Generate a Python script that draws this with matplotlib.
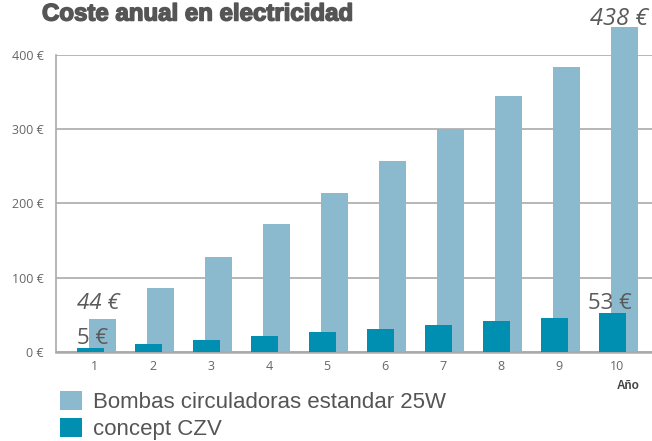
import matplotlib.pyplot as plt
import matplotlib.patheffects as pe

# Coste anual (EUR) por año
anios = [1, 2, 3, 4, 5, 6, 7, 8, 9, 10]
coste_estandar = [44, 86, 128, 172, 214, 257, 301, 345, 384, 438]
coste_czv = [5, 11, 16, 22, 27, 31, 36, 42, 46, 53]
yticks = [0, 100, 200, 300, 400]
nombre_estandar = 'Bombas circuladoras estandar 25W'
nombre_czv = 'concept CZV'

color_claro = '#8bb9ce'
color_oscuro = '#008fb0'
gris_texto = '#666666'

fig = plt.figure(figsize=(6.52, 4.41), dpi=100)
ax = fig.add_axes([0.0859, 0.2018, 0.914, 0.6735])

ancho = 0.47
b1 = ax.bar([a + 0.13 for a in anios], coste_estandar, width=ancho,
            color=color_claro, clip_on=False, zorder=2, label=nombre_estandar)
b2 = ax.bar([a - 0.08 for a in anios], coste_czv, width=ancho,
            color=color_oscuro, clip_on=False, zorder=3, label=nombre_czv)

ax.set_xlim(0.33, 10.6)
ax.set_ylim(0, 400)
ax.set_xticks(anios)
ax.set_xticklabels([str(a) for a in anios], fontfamily='Open Sans',
                   fontsize=9, color=gris_texto)
ax.set_yticks(yticks)
ax.set_yticklabels([f'{v} €' for v in yticks], fontfamily='Open Sans',
                   fontsize=9, color=gris_texto)
ax.tick_params(axis='both', length=0)
ax.tick_params(axis='y', pad=9)
ax.tick_params(axis='x', pad=6)

ax.grid(axis='y', color='#aaaaaa', linewidth=1.2, zorder=0)
ax.set_axisbelow(True)
for s in ['top', 'right']:
    ax.spines[s].set_visible(False)
ax.spines['left'].set_color('#aaaaaa')
ax.spines['left'].set_linewidth(1.2)
ax.spines['bottom'].set_color('#aaaaaa')
ax.spines['bottom'].set_linewidth(1.8)

# Etiquetas de valor
etiq = dict(fontfamily='Open Sans', color='#5a5a5a', textcoords='offset pixels',
            va='baseline')
ax.annotate(f'{coste_estandar[-1]} €', (anios[-1] + 0.03, coste_estandar[-1]),
            xytext=(0, 2), ha='center', fontsize=17, style='italic',
            annotation_clip=False, **etiq)
ax.annotate(f'{coste_estandar[0]} €', (anios[0] - 0.08 - ancho / 2, coste_estandar[0]),
            xytext=(0, 10), ha='left', fontsize=16, style='italic', **etiq)
ax.annotate(f'{coste_czv[0]} €', (anios[0] - 0.08 - ancho / 2, coste_czv[0]),
            xytext=(0, 4), ha='left', fontsize=16, **etiq)
ax.annotate(f'{coste_czv[-1]} €', (anios[-1] - 0.08, coste_czv[-1]),
            xytext=(-3, 4), ha='center', fontsize=16, **etiq)

ax.text((628 - 56) / 596, -0.115, 'Año', transform=ax.transAxes, ha='center',
        va='center', fontsize=8.5, fontweight='bold', color='#444444',
        fontfamily='Liberation Sans')

fig.text(42 / 652, 1 - 14 / 441, 'Coste anual en electricidad', ha='left',
         va='center', fontsize=17.3, fontweight='bold', color='#555555',
         fontfamily='Liberation Sans',
         path_effects=[pe.withStroke(linewidth=1.1, foreground='#555555')])

fig.legend(handles=[b1, b2], loc='upper left',
           bbox_to_anchor=(60 / 652, 1 - 391 / 441), frameon=False,
           prop={'family': 'Liberation Sans', 'size': 16},
           labelcolor='#555555', handlelength=1.0, handleheight=0.95,
           handletextpad=0.5, labelspacing=0.2, borderpad=0.0,
           borderaxespad=0.0)

fig.savefig('out.png', dpi=100)
